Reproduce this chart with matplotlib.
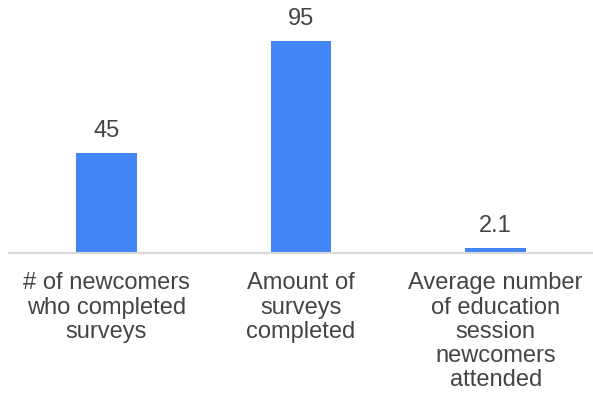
import matplotlib.pyplot as plt

plt.rcParams['font.family'] = ['Liberation Sans', 'DejaVu Sans']

# Survey summary
categories = ['# of newcomers\nwho completed\nsurveys',
              'Amount of\nsurveys\ncompleted',
              'Average number\nof education\nsession\nnewcomers\nattended']
values = [45, 95, 2.1]
value_labels = ['45', '95', '2.1']

fig = plt.figure(figsize=(5.93, 4.05), dpi=100)
ax = fig.add_axes([9 / 593, 152 / 405, 584 / 593, 223 / 405])

x = range(len(categories))
bars = ax.bar(x, values, width=0.31, color='#4285F4', zorder=2)

ax.set_xlim(-0.5, 2.5)
ax.set_ylim(0, 100)

# Value on top of each bar
for bar, lab in zip(bars, value_labels):
    ax.annotate(lab, (bar.get_x() + bar.get_width() / 2, bar.get_height()),
                xytext=(0, 8), textcoords='offset points',
                ha='center', va='bottom', fontsize=17, color='#444444')

# Category names under the baseline
for i, cat in enumerate(categories):
    ax.annotate(cat, (i, 0), xytext=(0, -14), textcoords='offset points',
                ha='center', va='top', fontsize=17, color='#444444',
                linespacing=1.13)

for side in ['left', 'right', 'top']:
    ax.spines[side].set_visible(False)
ax.spines['bottom'].set_color('#d9d9d9')
ax.spines['bottom'].set_linewidth(1.5)
ax.set_xticks([])
ax.set_yticks([])

fig.savefig('out.png', dpi=100)
